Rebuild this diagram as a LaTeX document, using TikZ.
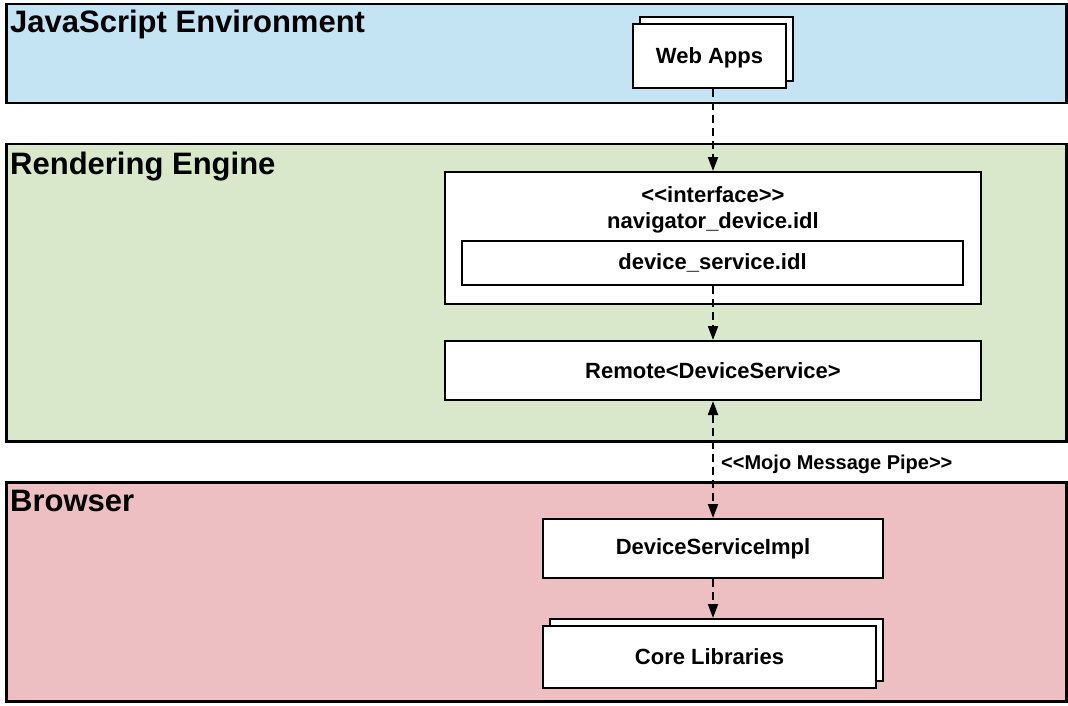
\documentclass[tikz,border=0pt]{standalone}
\usepackage{fontspec}
\setmainfont{Liberation Sans}
\usetikzlibrary{arrows.meta}
\definecolor{jsblue}{HTML}{C4E3F3}
\definecolor{regreen}{HTML}{D9E8CB}
\definecolor{brpink}{HTML}{EDBFC3}
\begin{document}
\begin{tikzpicture}[x=1pt,y=-1pt,
  band/.style={draw=black, line width=2.5pt, anchor=north west, inner sep=0pt, minimum width=1060pt},
  box/.style={draw=black, fill=white, line width=2pt, inner sep=0pt, font=\fontsize{22}{26}\selectfont\bfseries},
  lbl/.style={inner sep=0pt, font=\fontsize{22}{26}\selectfont\bfseries},
  bandtitle/.style={font=\fontsize{31}{36}\selectfont\bfseries, anchor=base west, inner sep=0pt},
  flow/.style={line width=2pt, dash pattern=on 8pt off 5pt, -{Triangle[length=14pt,width=10pt]}},
  bothflow/.style={line width=2pt, dash pattern=on 8pt off 5pt, {Triangle[length=14pt,width=10pt]}-{Triangle[length=14pt,width=10pt]}}
]
\useasboundingbox (0,0) rectangle (1068,706);
% bands
\node[band, fill=jsblue, minimum height=99pt] (js) at (5,3) {};
\node[band, fill=regreen, minimum height=297pt] (re) at (5,143) {};
\node[band, fill=brpink, minimum height=219pt] (br) at (5,481) {};
\node[bandtitle] (jstitle) at (10,33) {JavaScript Environment};
\node[bandtitle] (retitle) at (10,174) {Rendering Engine};
\node[bandtitle] (brtitle) at (10,511) {Browser};
% web apps
\node[box, minimum width=153pt, minimum height=64pt] (webback) at (716.5,49) {};
\node[box, minimum width=153pt, minimum height=64pt, text depth=0pt, text height=16pt] (web) at (709.5,56) {Web Apps};
% interface
\node[box, minimum width=536pt, minimum height=132pt] (iface) at (713,238) {};
\node[lbl] (ifacekw) at (713,195) {<\kern0pt<interface>\kern0pt>};
\node[lbl] (ifacename) at (713,223) {navigator\_device.idl};
\node[box, minimum width=501pt, minimum height=44pt] (svc) at (712.5,263) {device\_service.idl};
% remote
\node[box, minimum width=536pt, minimum height=59pt] (remote) at (713,370.5) {Remote<DeviceService>};
% browser side
\node[box, minimum width=340pt, minimum height=59pt] (dsi) at (713,548.5) {DeviceServiceImpl};
\node[box, minimum width=333pt, minimum height=62pt] (coreback) at (716.5,650) {};
\node[box, minimum width=333pt, minimum height=62pt] (core) at (709.5,657) {Core Libraries};
% connectors
\draw[flow] (web.south -| iface.north) -- (iface.north);
\draw[flow] (svc.south -| remote.north) -- (remote.north);
\draw[bothflow] (remote.south) -- (dsi.north);
\draw[flow] (dsi.south) -- (dsi.south |- coreback.north);
\node[anchor=west, inner sep=0pt, font=\fontsize{20}{24}\selectfont\bfseries] (mojo) at (721,464) {<\kern0pt<Mojo Message Pipe>\kern0pt>};
\end{tikzpicture}
\end{document}
